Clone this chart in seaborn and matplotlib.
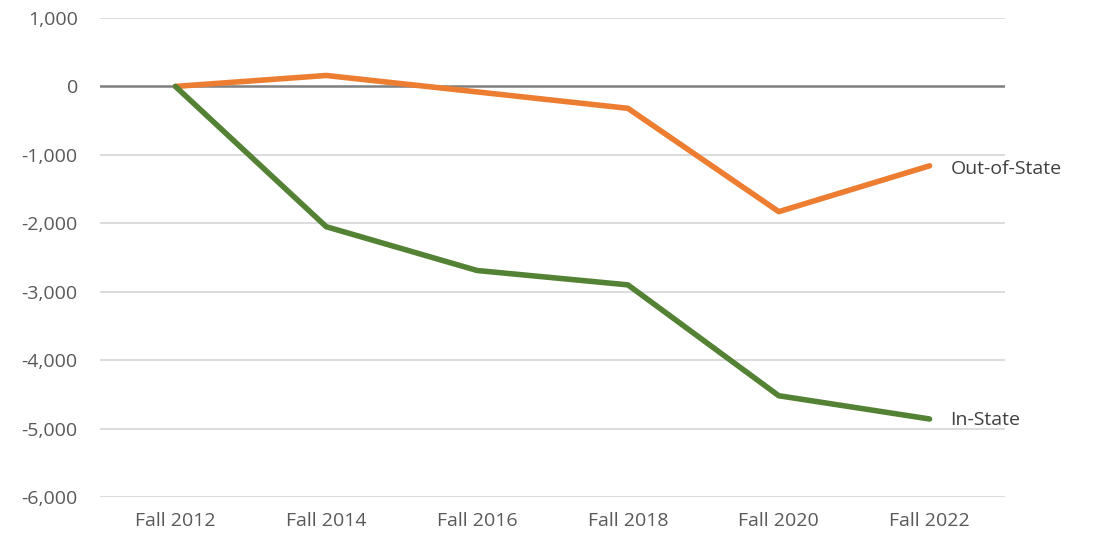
import matplotlib
matplotlib.use("Agg")
import matplotlib.pyplot as plt
import seaborn as sns
import pandas as pd
from matplotlib.ticker import FuncFormatter

categories = ["Fall 2012", "Fall 2014", "Fall 2016", "Fall 2018", "Fall 2020", "Fall 2022"]
out_of_state = [0, 160, -80, -320, -1830, -1160]
in_state = [0, -2050, -2690, -2900, -4520, -4860]

sns.set_theme(style="white")
plt.rcParams['font.family'] = ['Open Sans', 'DejaVu Sans']

df = pd.DataFrame({
    "cat": categories * 2,
    "x": list(range(len(categories))) * 2,
    "value": out_of_state + in_state,
    "series": ["Out-of-State"] * len(categories) + ["In-State"] * len(categories),
})

fig = plt.figure(figsize=(10.94, 5.42), dpi=100)
ax = fig.add_axes([100 / 1094, 1 - 497 / 542, 905 / 1094, (497 - 18) / 542])

colors = {"Out-of-State": "#ED7D31", "In-State": "#548235"}

for yv in range(-6000, 1001, 1000):
    if yv == 0:
        continue
    ax.axhline(yv, color="#D9D9D9", lw=1.3, zorder=0)
ax.axhline(0, color="#7F7F7F", lw=1.8, zorder=1)

sns.lineplot(data=df, x="x", y="value", hue="series", palette=colors, lw=4,
             legend=False, ax=ax, zorder=3, solid_capstyle="round")

ax.set_xlim(-0.5, len(categories) - 0.5)
ax.set_ylim(-6000, 1000)
ax.set_yticks(range(-6000, 1001, 1000))
ax.yaxis.set_major_formatter(FuncFormatter(lambda v, p: f"{int(v):,}"))
ax.set_xticks(range(len(categories)))
ax.set_xticklabels(categories)
ax.tick_params(axis="both", labelsize=14, colors="#595959", length=0)
ax.tick_params(axis="y", pad=16)
ax.tick_params(axis="x", pad=11)
ax.set_xlabel("")
ax.set_ylabel("")
for s in ax.spines.values():
    s.set_visible(False)

last = len(categories) - 1
ax.annotate("Out-of-State", xy=(last, out_of_state[-1]), xytext=(15, -2),
            textcoords="offset points", va="center", ha="left",
            fontsize=14, color="#404040", annotation_clip=False)
ax.annotate("In-State", xy=(last, in_state[-1]), xytext=(15, -1),
            textcoords="offset points", va="center", ha="left",
            fontsize=14, color="#404040", annotation_clip=False)

fig.savefig("out.png", dpi=100)
